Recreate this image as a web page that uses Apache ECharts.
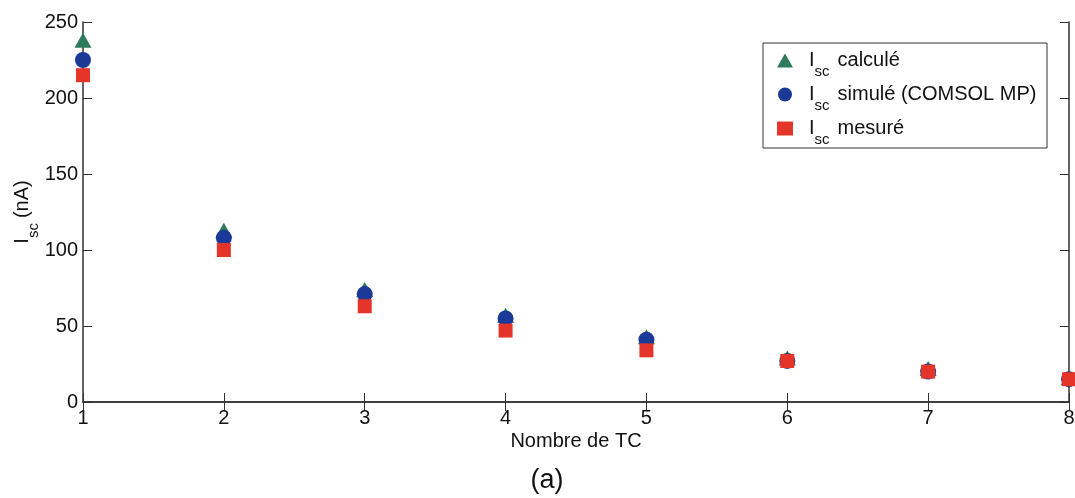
<!DOCTYPE html>
<html><head><meta charset="utf-8">
<script src="https://cdn.jsdelivr.net/npm/echarts@6/dist/echarts.min.js"></script>
<style>html,body{margin:0;padding:0;background:#fff}#c{width:1075px;height:498px}</style>
</head><body><div id="c"></div>
<script>
const nbTC = [1, 2, 3, 4, 5, 6, 7, 8];
const iscCalcule = [238, 113, 74, 57, 43, 29, 22, 16];
const iscSimule = [225, 108, 71, 55, 41, 27, 20, 15];
const iscMesure = [215, 100, 63, 47, 34, 27, 20, 15];
const yTicks = [0, 50, 100, 150, 200, 250];
const xTicks = [1, 2, 3, 4, 5, 6, 7, 8];

const font = 'Liberation Sans';
const chart = echarts.init(document.getElementById('c'));
const pair = (xs, ys) => xs.map((x, i) => [x, ys[i]]);
const legendRich = {
  i: {fontFamily: font, fontSize: 20, color: '#111', padding: [0, 0, 0, 11]},
  s: {fontFamily: font, fontSize: 15, color: '#111', padding: [22, 8, 0, 0]},
  t: {fontFamily: font, fontSize: 20, color: '#111'}
};
const nameRich = {
  i: {fontFamily: font, fontSize: 20, color: '#111'},
  s: {fontFamily: font, fontSize: 15, color: '#111', padding: [22, 5, 0, 0]},
  t: {fontFamily: font, fontSize: 20, color: '#111'}
};
const names = {'calc': 'calculé', 'sim': 'simulé (COMSOL MP)', 'mes': 'mesuré'};
const tickStyle = {inside: true, length: 9, lineStyle: {color: '#333', width: 1}};
const lineStyle = {color: '#333', width: 1.5};
chart.setOption({
  animation: false,
  grid: {left: 83, right: 6, top: 22, bottom: 96, containLabel: false, outerBoundsMode: 'none'},
  legend: {
    orient: 'vertical', left: 777, top: 50.5,
    padding: 0, itemGap: 5.5,
    itemWidth: 16, itemHeight: 14,
    data: [{name: 'calc', icon: 'triangle'}, {name: 'sim', icon: 'circle'}, {name: 'mes', icon: 'rect'}],
    formatter: n => '{i|I}{s|sc}{t|' + names[n] + '}',
    textStyle: {rich: legendRich}
  },
  xAxis: [{
    type: 'value', min: 1, max: 8, interval: 1,
    name: 'Nombre de TC', nameLocation: 'middle', nameGap: 29, nameMoveOverlap: false,
    nameTextStyle: {fontFamily: font, fontSize: 20, color: '#111'},
    axisLine: {lineStyle: lineStyle},
    axisTick: tickStyle,
    axisLabel: {fontFamily: font, fontSize: 20, color: '#111', margin: 6,
      formatter: v => xTicks.includes(v) ? String(v) : ''},
    splitLine: {show: false}
  }, {
    type: 'value', min: 1, max: 8, interval: 1, position: 'top',
    axisLine: {lineStyle: lineStyle},
    axisTick: tickStyle,
    axisLabel: {show: false}, splitLine: {show: false}
  }],
  yAxis: [{
    type: 'value', min: 0, max: 250, interval: 50,
    name: '{i|I}{s|sc}{t|(nA)}', nameLocation: 'middle', nameGap: 42, nameMoveOverlap: false,
    nameTextStyle: {rich: nameRich},
    axisLine: {show: true, lineStyle: lineStyle},
    axisTick: Object.assign({show: true}, tickStyle),
    axisLabel: {fontFamily: font, fontSize: 20, color: '#111', margin: 5,
      formatter: v => yTicks.includes(v) ? String(v) : ''},
    splitLine: {show: false}
  }, {
    type: 'value', min: 0, max: 250, interval: 50, position: 'right',
    axisLine: {show: true, lineStyle: lineStyle},
    axisTick: Object.assign({show: true}, tickStyle),
    axisLabel: {show: false}, splitLine: {show: false}
  }],
  series: [
    {name: 'calc', type: 'scatter', symbol: 'triangle', symbolSize: [17, 15], clip: false,
     itemStyle: {color: '#2e7a5a', opacity: 1}, data: pair(nbTC, iscCalcule)},
    {name: 'sim', type: 'scatter', symbol: 'circle', symbolSize: 16, clip: false,
     itemStyle: {color: '#1b3a98', opacity: 1}, data: pair(nbTC, iscSimule)},
    {name: 'mes', type: 'scatter', symbol: 'rect', symbolSize: 14, clip: false,
     itemStyle: {color: '#e5352a', opacity: 1}, data: pair(nbTC, iscMesure)}
  ],
  graphic: [
    {type: 'rect', z: 3, shape: {x: 763, y: 43, width: 284, height: 105},
     style: {fill: '#fff', stroke: '#333', lineWidth: 1}},
    {type: 'text', x: 547, y: 481, z: 3,
     style: {text: '(a)', font: '27px "Liberation Sans"', fill: '#111', textAlign: 'center', textVerticalAlign: 'middle'}}
  ]
});
</script></body></html>
